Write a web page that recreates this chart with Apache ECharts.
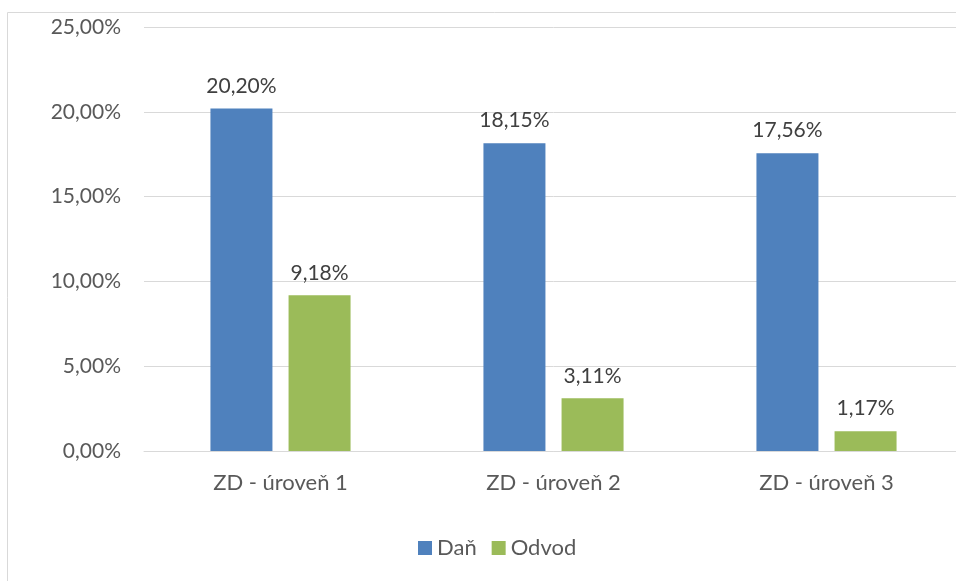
<!DOCTYPE html>
<html>
<head>
<meta charset="utf-8">
<script src="https://cdn.jsdelivr.net/npm/echarts@6/dist/echarts.min.js"></script>
<style>
  html, body { margin: 0; padding: 0; background: #fff; overflow: hidden; }
  #main { width: 980px; height: 581px; }
</style>
</head>
<body>
<div id="main"></div>
<script>
var categories = ["ZD - úroveň 1", "ZD - úroveň 2", "ZD - úroveň 3"];
var dan = [20.20, 18.15, 17.56];
var odvod = [9.18, 3.11, 1.17];

function pct(v) {
    return v.toFixed(2).replace(".", ",") + "%";
}

var font = "Lato, 'Open Sans', sans-serif";
var chart = echarts.init(document.getElementById("main"));
chart.setOption({
    animation: false,
    textStyle: { fontFamily: font },
    graphic: [{
        type: "rect",
        shape: { x: 7.5, y: 12.5, width: 1000, height: 1000 },
        style: { fill: "none", stroke: "#d9d9d9", lineWidth: 1 },
        silent: true
    }],
    legend: {
        data: ["Daň", "Odvod"],
        bottom: 17,
        left: 413,
        itemWidth: 14,
        itemHeight: 14,
        itemGap: 15,
        icon: "rect",
        textStyle: { fontSize: 22, color: "#595959", fontFamily: font }
    },
    grid: { left: 144, top: 27, width: 819, height: 424, containLabel: false },
    xAxis: {
        type: "category",
        data: categories,
        axisLine: { lineStyle: { color: "#d9d9d9" } },
        axisTick: { show: false },
        axisLabel: { fontSize: 22, color: "#595959", margin: 21, fontFamily: font }
    },
    yAxis: {
        type: "value",
        min: 0,
        max: 25,
        interval: 5,
        axisLine: { show: false },
        axisTick: { show: false },
        splitLine: { lineStyle: { color: "#d9d9d9" } },
        axisLabel: { fontSize: 21, color: "#595959", margin: 23, fontFamily: font, formatter: pct }
    },
    series: [{
        name: "Daň",
        type: "bar",
        data: dan,
        barWidth: 62,
        barGap: "26%",
        itemStyle: { color: "#4F81BD" },
        label: { show: true, position: "top", distance: 12, fontSize: 21, color: "#404040", fontFamily: font,
            formatter: function (p) { return pct(p.value); } }
    }, {
        name: "Odvod",
        type: "bar",
        data: odvod,
        barWidth: 62,
        itemStyle: { color: "#9BBB59" },
        label: { show: true, position: "top", distance: 12, fontSize: 21, color: "#404040", fontFamily: font,
            formatter: function (p) { return pct(p.value); } }
    }]
});
</script>
</body>
</html>
